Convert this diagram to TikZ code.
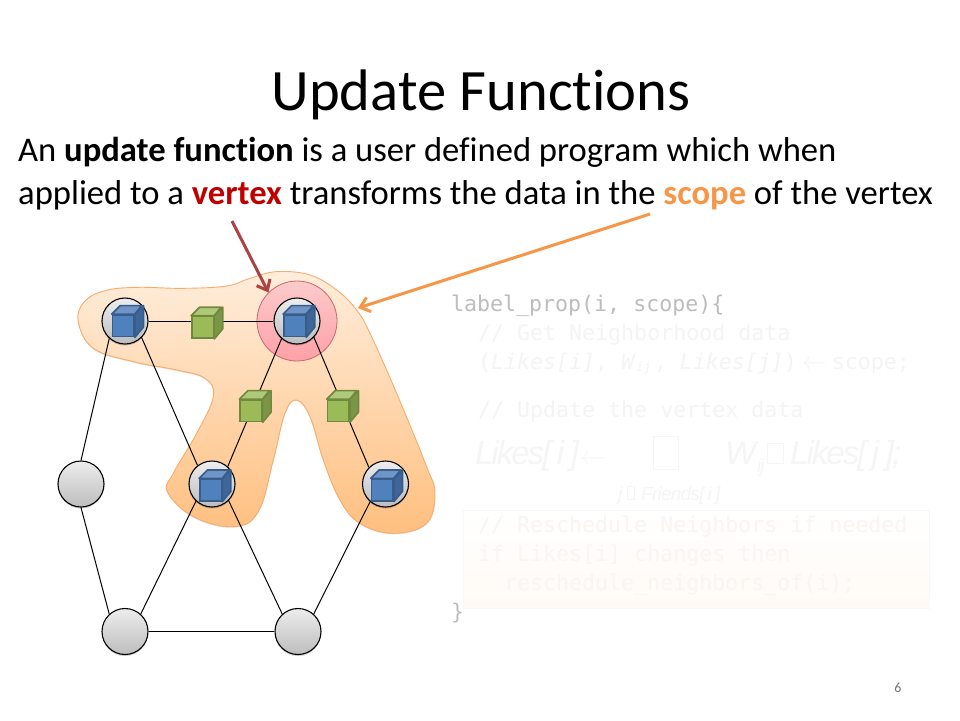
\documentclass[tikz,border=0pt]{standalone}
\usepackage{fontspec}
\setmainfont[Ligatures=CommonOff]{Carlito}
\setmonofont{DejaVu Sans Mono}
\newfontfamily\mathfont[LetterSpace=-6]{Liberation Sans}
\newfontfamily\subfont[LetterSpace=-4]{Liberation Sans}
\usetikzlibrary{arrows.meta,shadows,calc}
\definecolor{codedark}{HTML}{BDBDBD}
\definecolor{codefade}{HTML}{F4F4F4}
\definecolor{codefaint}{HTML}{F5F5F5}
\definecolor{schedfade}{HTML}{F8F5F2}
\definecolor{vtop}{HTML}{EDEDED}
\definecolor{vbot}{HTML}{BDBDBD}
\definecolor{vred}{HTML}{C00000}
\definecolor{vorange}{HTML}{F79646}
\definecolor{arrowred}{HTML}{AB4345}
\definecolor{ringedge}{HTML}{C8686A}
\definecolor{ringtop}{HTML}{FBCBCB}
\definecolor{ringbot}{HTML}{FFA0A8}
\tikzset{
  titletext/.style={font=\fontsize{58.6}{66}\selectfont,anchor=base,inner sep=0pt},
  bodytext/.style={font=\fontsize{34.6}{40}\selectfont,anchor=base west,inner sep=0pt},
  codeline/.style={font=\ttfamily\fontsize{21.6}{25}\selectfont,anchor=base west,inner sep=0pt},
  mathline/.style={anchor=base west,inner sep=0pt,text=codefaint},
  vertexdisc/.style={circle,draw=black,line width=1.1pt,minimum size=46pt,inner sep=0pt,
    top color=vtop,bottom color=vbot,drop shadow={shadow xshift=0pt,shadow yshift=-1.5pt,opacity=.2,fill=black}},
  edgeline/.style={draw=black,line width=1pt},
  focusdisc/.style={circle,draw=ringedge,line width=.8pt,minimum size=80pt,inner sep=0pt,
    top color=ringtop,bottom color=ringbot},
  scopeblob/.style={draw=vorange!80!white,line width=.9pt,top color=orange!14!white,bottom color=orange!50!white},
  tipline/.style={line width=3pt,-{Straight Barb[length=9pt,width=15pt,line width=3pt]}},
  missingglyph/.style={draw=codefaint,line width=.8pt,inner sep=0pt},
  cubefront/.style={rectangle,inner sep=0pt,minimum size=21.5pt,line width=1.7pt}
}
% name, x, y, fill, top face, side face, border
\newcommand{\cubeat}[7]{%
  \node[cubefront,draw=#7,fill=#4] (#1) at (#2,#3) {};
  \filldraw[draw=#7,fill=#5,line width=1.7pt,line join=round] (#1.north west) -- ++(8.5,-8.5) -- ++(21.5,0) -- (#1.north east) -- cycle;
  \filldraw[draw=#7,fill=#6,line width=1.7pt,line join=round] (#1.north east) -- ++(8.5,-8.5) -- ++(0,21.5) -- (#1.south east) -- cycle;
}
\begin{document}
\begin{tikzpicture}[x=1pt,y=-1pt]
\useasboundingbox[fill=white] (0,0) rectangle (960,720);

% text
\node[titletext] (title) at (481,110) {Update Functions};
\node[bodytext] (line1) at (18,161) {An \textbf{update function} is a user defined program which when};
\node[bodytext] (line2) at (18,204) {applied to a \textcolor{vred}{\textbf{vertex}} transforms the data in the \textcolor{vorange}{\textbf{scope}} of the vertex};
\node[anchor=base,inner sep=0pt,text=black!55,font=\fontsize{14}{16}\selectfont] (pagenum) at (898,692) {6};

% scope blob
\begin{scope}[shift={(50,260)},x=0.3333pt,y=-0.3333pt]
\path[scopeblob,drop shadow={shadow xshift=0pt,shadow yshift=-1pt,opacity=.12,fill=black}]
  plot[smooth cycle,tension=.65] coordinates {
  (85,185) (103,125) (165,92) (260,82) (400,85) (530,78) (600,55) (680,35) (780,45) (860,90) (920,150)
  (960,220) (1040,400) (1130,620) (1155,700) (1130,790) (1030,820) (930,790) (870,720) (820,600)
  (780,470) (740,420) (705,460) (670,600) (625,755) (550,800) (430,770) (352,695) (370,640)
  (440,520) (490,410) (465,355) (380,330) (250,305) (130,265)};
\end{scope}

\node[focusdisc] (focus) at (297,321) {};

% vertices
\node[vertexdisc] (v1) at (125,321) {};
\node[vertexdisc] (v2) at (297,321) {};
\node[vertexdisc] (v3) at (81,484) {};
\node[vertexdisc] (v4) at (212,484) {};
\node[vertexdisc] (v5) at (385.5,484) {};
\node[vertexdisc] (v6) at (125,631.5) {};
\node[vertexdisc] (v7) at (298,631.5) {};

% edges
\path[edgeline] (v1.east) -- (v2.west);
\path[edgeline] (v1.228) -- (v3.north);
\path[edgeline] (v1.-45) -- (v4.128);
\path[edgeline] (v2.229) -- (v4.48);
\path[edgeline] (v2.-44) -- (v5.135);
\path[edgeline] (v3.south) -- (v6.132);
\path[edgeline] (v4.227) -- (v6.48);
\path[edgeline] (v4.-45) -- (v7.132);
\path[edgeline] (v5.229) -- (v7.48);
\path[edgeline] (v6.east) -- (v7.west);

% cubes
\definecolor{bluefront}{HTML}{4F81BD}
\definecolor{bluetop}{HTML}{7096C8}
\definecolor{blueside}{HTML}{3E6698}
\definecolor{blueedge}{HTML}{385D8A}
\definecolor{greenfront}{HTML}{9BBB59}
\definecolor{greentop}{HTML}{AFC97A}
\definecolor{greenside}{HTML}{7C9647}
\definecolor{greenedge}{HTML}{71893F}
\cubeat{b1}{123.3}{325.7}{bluefront}{bluetop}{blueside}{blueedge}
\cubeat{b2}{294.7}{325.7}{bluefront}{bluetop}{blueside}{blueedge}
\cubeat{b4}{210.7}{490}{bluefront}{bluetop}{blueside}{blueedge}
\cubeat{b5}{382.3}{490}{bluefront}{bluetop}{blueside}{blueedge}
\cubeat{g1}{202.7}{327.3}{greenfront}{greentop}{greenside}{greenedge}
\cubeat{g2}{251}{410.7}{greenfront}{greentop}{greenside}{greenedge}
\cubeat{g3}{338.3}{410.7}{greenfront}{greentop}{greenside}{greenedge}

% arrows
\coordinate (redstart) at (232,221);
\coordinate (orangestart) at (650,214);
\coordinate (scopetip) at (358,308);
\draw[tipline,draw=arrowred] (redstart) -- (focus.135);
\draw[tipline,draw=vorange] (orangestart) -- (scopetip);

% code
\node[draw=codefaint!70!white,line width=.5pt,top color=white,bottom color=orange!4!white,minimum width=466pt,minimum height=98pt,inner sep=0pt,anchor=north west] (schedbox) at (463,510) {};
\node[codeline,text=codedark] (c1) at (451,311) {label\_prop(i, scope)\{};
\node[codeline,text=codefade] (c2) at (478,340) {// Get Neighborhood data};
\node[codeline,text=codefade] (c3) at (478,369) {(\textit{Likes[i]}, \textit{W}\makebox[18pt][l]{\raisebox{-2pt}{\fontsize{13}{13}\selectfont\textit{ij}}}, \textit{Likes[j]})\makebox[35pt][c]{\fontsize{30}{30}\selectfont$\leftarrow$}scope;};
\node[codeline,text=codefade] (c4) at (478,417) {// Update the vertex data};
\node[mathline,font=\mathfont\itshape\fontsize{33}{36}\selectfont] (m1) at (475,464) {Likes[\,i\,]};
\node[mathline,font=\fontsize{36}{38}\selectfont] (m2) at (580,464) {$\leftarrow$};
\node[missingglyph,minimum width=25pt,minimum height=33pt,anchor=north west] (m3) at (653,436) {};
\node[mathline,font=\mathfont\itshape\fontsize{33}{36}\selectfont] (m4) at (725,464) {W};
\node[mathline,font=\mathfont\itshape\fontsize{19}{20}\selectfont] (m5) at (757,472) {ij};
\node[missingglyph,minimum width=16pt,minimum height=20pt,anchor=north west] (m6) at (767,443) {};
\node[mathline,font=\mathfont\itshape\fontsize{33}{36}\selectfont] (m7) at (790,464) {Likes[\,j\,];};
\node[mathline,font=\subfont\itshape\fontsize{19}{20}\selectfont] (m8) at (618,500) {j};
\node[missingglyph,minimum width=7pt,minimum height=13pt,anchor=north west] (m9) at (627,486) {};
\node[mathline,font=\subfont\itshape\fontsize{19}{20}\selectfont] (m10) at (641,500) {Friends[\,i\,]};
\node[codeline,text=schedfade] (c5) at (478,532) {// Reschedule Neighbors if needed};
\node[codeline,text=schedfade] (c6) at (478,561) {if Likes[i] changes then};
\node[codeline,text=schedfade] (c7) at (504,590) {reschedule\_neighbors\_of(i);};
\node[codeline,text=codedark] (c8) at (451,619) {\}};
\end{tikzpicture}
\end{document}
